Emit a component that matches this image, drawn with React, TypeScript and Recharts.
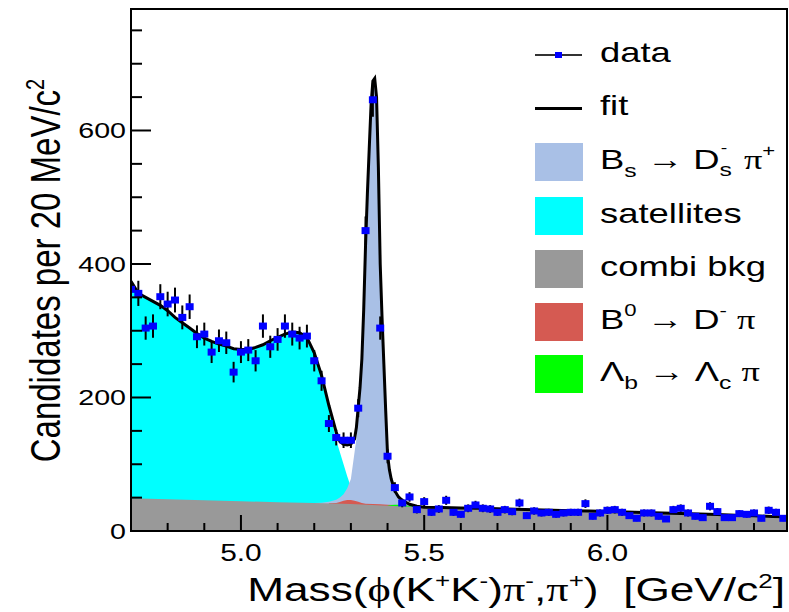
import React from "react";
import { ComposedChart, XAxis, YAxis, Area, Line, Scatter, ErrorBar } from "recharts";

// candidates per 20 MeV bin, bins starting at 4.70 GeV
const counts = [
  362, 356, 304, 307, 351, 340, 346, 320, 336, 291,
  295, 268, 285, 282, 238, 268, 271, 255, 307, 276,
  287, 307, 295, 289, 292, 255, 225, 161, 140, 136,
  136, 184, 450, 646, 304, 112, 65, 42, 51, 32,
  44, 28, 33, 46, 28, 25, 34, 39, 34, 33,
  28, 32, 29, 42, 23, 30, 27, 28, 25, 27,
  28, 28, 41, 22, 27, 31, 32, 28, 23, 19,
  27, 27, 22, 18, 32, 34, 27, 22, 20, 37,
  29, 20, 20, 26, 25, 27, 19, 31, 28, 19,
];

// total fit curve
const fitX = [
  4.70, 4.72, 4.74, 4.76, 4.78, 4.80, 4.82, 4.84, 4.86, 4.88,
  4.90, 4.92, 4.94, 4.96, 4.98, 5.00, 5.02, 5.04, 5.06, 5.08,
  5.10, 5.12, 5.14, 5.16, 5.18, 5.20, 5.22, 5.24, 5.26, 5.27,
  5.28, 5.29, 5.30, 5.31, 5.315, 5.32, 5.325, 5.33, 5.335, 5.34,
  5.345, 5.35, 5.355, 5.36, 5.365, 5.37, 5.375, 5.38, 5.385, 5.39,
  5.395, 5.40, 5.405, 5.41, 5.42, 5.43, 5.44, 5.46, 5.48, 5.50,
  5.55, 5.60, 5.65, 5.70, 5.75, 5.80, 5.85, 5.90, 5.95, 6.00,
  6.05, 6.10, 6.15, 6.20, 6.25, 6.30, 6.35, 6.40, 6.45, 6.49,
];
const fitY = [
  374, 356, 350, 344, 338, 330, 320, 312, 304, 296,
  289, 284, 280, 277, 273, 272, 272, 275, 279, 285,
  290, 295, 298, 297, 290, 267, 233, 188, 148, 134,
  130, 129, 130, 138, 155, 185, 215, 258, 332, 428,
  505, 572, 638, 674, 678, 650, 545, 400, 320, 250,
  180, 115, 92, 78, 60, 51, 46, 40, 37, 35.5,
  35.2, 34.5, 34, 33.3, 32.5, 31.8, 31, 30.5, 29.8, 29.2,
  28.3, 27.6, 26.8, 26.1, 25.3, 24.6, 23.5, 22.7, 21.8, 21.2,
];

// satellites (drawn on top of combinatorial)
const satX = [
  4.70, 4.72, 4.74, 4.76, 4.78, 4.80, 4.82, 4.84, 4.86, 4.88,
  4.90, 4.92, 4.94, 4.96, 4.98, 5.00, 5.02, 5.04, 5.06, 5.08,
  5.10, 5.12, 5.14, 5.16, 5.18, 5.20, 5.22, 5.24, 5.26, 5.27,
  5.28, 5.29, 5.30, 5.31, 5.32, 5.33, 5.34,
];
const satY = [
  374, 356, 350, 344, 338, 330, 320, 312, 304, 296,
  289, 284, 280, 277, 273, 272, 272, 275, 279, 285,
  290, 295, 298, 297, 290, 266, 231, 184, 136, 118,
  100, 82, 66, 52, 45, 41.5, 40,
];

// Bs -> Ds pi signal
const bsX = [
  5.20, 5.22, 5.24, 5.26, 5.27, 5.28, 5.29, 5.30, 5.31, 5.315,
  5.32, 5.325, 5.33, 5.335, 5.34, 5.345, 5.35, 5.355, 5.36, 5.365,
  5.37, 5.375, 5.38, 5.385, 5.39, 5.395, 5.40, 5.405, 5.41, 5.42,
  5.43, 5.44, 5.46, 5.48, 5.50, 5.55,
];
const bsY = [
  42, 42.5, 44, 47, 50, 55, 64, 78, 118, 138,
  172, 205, 252, 326, 422, 500, 568, 634, 670, 674,
  646, 541, 396, 316, 246, 176, 111, 88, 74, 56,
  48, 43, 38.5, 36, 35, 34.5,
];

// B0 -> D pi
const b0X = [5.24, 5.26, 5.27, 5.28, 5.29, 5.30, 5.31, 5.32, 5.33, 5.34, 5.36, 5.38, 5.40, 5.42, 5.43];
const b0Y = [41.4, 42, 43.5, 45.5, 46.5, 46.5, 45.5, 44, 42, 41, 40.5, 40, 39.5, 39, 37.3];

// Lambda_b -> Lambda_c pi
const lbX = [5.40, 5.41, 5.42, 5.43, 5.44, 5.45, 5.46, 5.47];
const lbY = [38, 38.8, 39.3, 39.5, 39.2, 38.5, 37.5, 36.5];

// combinatorial background
const bkgX = [4.70, 4.80, 4.90, 5.00, 5.10, 5.20, 5.30, 5.40, 5.50, 5.60, 5.70, 5.80, 5.90, 6.00, 6.10, 6.20, 6.30, 6.40, 6.49];
const bkgY = [49, 47.5, 46, 44.5, 43.2, 42, 40.5, 38, 35.5, 34, 33, 31.5, 30.5, 29, 27.5, 26, 24.5, 22.5, 21];

const xTicks = [4.8, 4.9, 5.0, 5.1, 5.2, 5.3, 5.4, 5.5, 5.6, 5.7, 5.8, 5.9, 6.0, 6.1, 6.2, 6.3, 6.4];
const yTicks = [0, 50, 100, 150, 200, 250, 300, 350, 400, 450, 500, 550, 600, 650, 700, 750];

const toPts = (xs: number[], ys: number[]) => xs.map((x, i) => ({ x, y: ys[i] }));
const dataPts = counts.map((c, i) => ({ x: +(4.7 + 0.02 * i).toFixed(2), y: c, err: Math.sqrt(c) }));

const FONT = '"Liberation Sans", Arial, sans-serif';
const GREEK = '"Liberation Serif", serif';
const SX = 1.3;

const COLORS = {
  bs: "#a9c0e6",
  sat: "#00ffff",
  bkg: "#999999",
  b0: "#d55a52",
  lb: "#00ff00",
  data: "#0000ff",
};

function XTick(props: any) {
  const { x, y, payload } = props;
  const v = payload.value as number;
  const major = Math.abs(v * 2 - Math.round(v * 2)) < 1e-6;
  return (
    <g>
      <line x1={x} x2={x} y1={y} y2={y - (major ? 16 : 8)} stroke="#000" strokeWidth={2} />
      {major && (
        <text
          transform={`translate(${x},${y + 22}) scale(${SX},1)`}
          textAnchor="middle"
          dy="0.35em"
          fontSize={23}
          fontFamily={FONT}
          fill="#000"
        >
          {v.toFixed(1)}
        </text>
      )}
    </g>
  );
}

function YTick(props: any) {
  const { x, y, payload } = props;
  const v = payload.value as number;
  const major = v % 200 === 0;
  return (
    <g>
      <line x1={x} x2={x + (major ? 20 : 11)} y1={y} y2={y} stroke="#000" strokeWidth={2} />
      {major && (
        <text
          transform={`translate(${x - 5},${y}) scale(${SX},1)`}
          textAnchor="end"
          dy="0.35em"
          fontSize={22}
          fontFamily={FONT}
          fill="#000"
        >
          {v}
        </text>
      )}
    </g>
  );
}

function DataMarker(props: any) {
  const { cx, cy } = props;
  return <rect x={cx - 4} y={cy - 3.5} width={8} height={7} fill={COLORS.data} />;
}

// small raised / lowered text, sized in px
const Sup = ({ children, size = 17 }: { children: React.ReactNode; size?: number }) => (
  <span style={{ fontSize: size, lineHeight: 1, verticalAlign: "top", display: "inline-block", marginTop: -1 }}>
    {children}
  </span>
);
const Sub = ({ children }: { children: React.ReactNode }) => (
  <span style={{ fontSize: 19, lineHeight: 1, position: "relative", top: 8 }}>{children}</span>
);
// superscript and subscript on the same letter, side by side in the flow
const SupSub = ({ sup, sub }: { sup: string; sub: string }) => (
  <span style={{ display: "inline-block", position: "relative", width: 11, height: 34, verticalAlign: "top" }}>
    <span style={{ position: "absolute", left: 1, top: -3, fontSize: 15, lineHeight: "15px" }}>{sup}</span>
    <span style={{ position: "absolute", left: 0, top: 17, fontSize: 19, lineHeight: "19px" }}>{sub}</span>
  </span>
);
const G = ({ children }: { children: React.ReactNode }) => (
  <span style={{ fontFamily: GREEK }}>{children}</span>
);

const legendRows: { cy: number; kind: "data" | "fit" | "box"; color?: string; label: React.ReactNode }[] = [
  { cy: 55, kind: "data", label: "data" },
  { cy: 108, kind: "fit", label: "fit" },
  {
    cy: 162,
    kind: "box",
    color: COLORS.bs,
    label: (
      <>
        B<Sub>s</Sub> → D<SupSub sup="-" sub="s" /> <G>π</G>
        <Sup>+</Sup>
      </>
    ),
  },
  { cy: 216, kind: "box", color: COLORS.sat, label: "satellites" },
  { cy: 269, kind: "box", color: COLORS.bkg, label: "combi bkg" },
  {
    cy: 322,
    kind: "box",
    color: COLORS.b0,
    label: (
      <>
        B<Sup>0</Sup> → D<Sup>-</Sup> <G>π</G>
      </>
    ),
  },
  {
    cy: 374,
    kind: "box",
    color: COLORS.lb,
    label: (
      <>
        Λ<Sub>b</Sub> → Λ<Sub>c</Sub> <G>π</G>
      </>
    ),
  },
];

export default function App() {
  return (
    <div
      style={{
        position: "absolute",
        left: 0,
        top: 0,
        width: 789,
        height: 612,
        overflow: "hidden",
        background: "#fff",
        fontFamily: FONT,
        color: "#000",
      }}
    >
      <ComposedChart width={789} height={612} margin={{ top: 9, right: 2, bottom: 0, left: 0 }}>
        <XAxis
          type="number"
          dataKey="x"
          domain={[4.7, 6.49]}
          allowDataOverflow
          ticks={xTicks}
          interval={0}
          tick={(p: any) => <XTick {...p} />}
          tickLine={false}
          axisLine={false}
          tickSize={0}
          tickMargin={0}
          height={81}
        />
        <YAxis
          type="number"
          domain={[0, 782]}
          allowDataOverflow
          ticks={yTicks}
          interval={0}
          tick={(p: any) => <YTick {...p} />}
          tickLine={false}
          axisLine={false}
          tickSize={0}
          tickMargin={0}
          width={131}
        />
        <Area data={toPts(satX, satY)} dataKey="y" type="linear" fill={COLORS.sat} fillOpacity={1} stroke="none" isAnimationActive={false} />
        <Area data={toPts(bsX, bsY)} dataKey="y" type="linear" fill={COLORS.bs} fillOpacity={1} stroke="none" isAnimationActive={false} />
        <Area data={toPts(b0X, b0Y)} dataKey="y" type="linear" fill={COLORS.b0} fillOpacity={1} stroke="none" isAnimationActive={false} />
        <Area data={toPts(lbX, lbY)} dataKey="y" type="linear" fill={COLORS.lb} fillOpacity={1} stroke="none" isAnimationActive={false} />
        <Area data={toPts(bkgX, bkgY)} dataKey="y" type="linear" fill={COLORS.bkg} fillOpacity={1} stroke="none" isAnimationActive={false} />
        <Line data={toPts(fitX, fitY)} dataKey="y" type="linear" stroke="#000" strokeWidth={3} dot={false} isAnimationActive={false} />
        <Scatter data={dataPts} dataKey="y" shape={<DataMarker />} isAnimationActive={false}>
          <ErrorBar dataKey="err" direction="y" width={0} stroke="#000" strokeWidth={2} />
        </Scatter>
      </ComposedChart>

      {/* frame */}
      <div
        style={{
          position: "absolute",
          left: 130,
          top: 8,
          width: 658,
          height: 524,
          border: "2px solid #000",
          boxSizing: "border-box",
          pointerEvents: "none",
        }}
      />

      {/* legend */}
      {legendRows.map((r, i) => (
        <React.Fragment key={i}>
          {r.kind === "box" && (
            <div
              style={{
                position: "absolute",
                left: 535,
                top: r.cy - 19,
                width: 48,
                height: 38,
                background: r.color,
              }}
            />
          )}
          {r.kind === "fit" && (
            <div style={{ position: "absolute", left: 535, top: r.cy - 1.5, width: 47, height: 3, background: "#000" }} />
          )}
          {r.kind === "data" && (
            <>
              <div style={{ position: "absolute", left: 535, top: r.cy - 1, width: 47, height: 2, background: "#333" }} />
              <div style={{ position: "absolute", left: 555, top: r.cy - 3, width: 7, height: 6, background: COLORS.data }} />
            </>
          )}
          <div
            style={{
              position: "absolute",
              left: 600,
              top: r.cy - 19,
              fontSize: 28,
              lineHeight: "34px",
              whiteSpace: "pre",
              transform: `scaleX(${SX})`,
              transformOrigin: "left center",
            }}
          >
            {r.label}
          </div>
        </React.Fragment>
      ))}

      {/* y-axis title */}
      <div
        style={{
          position: "absolute",
          left: 45 - 210,
          top: 270 - 16.5,
          width: 420,
          height: 33,
          fontSize: 33,
          lineHeight: "33px",
          textAlign: "center",
          whiteSpace: "pre",
          transform: `rotate(-90deg) scaleY(${SX})`,
          transformOrigin: "50% 50%",
        }}
      >
        Candidates per 20 MeV/c<Sup size={20}>2</Sup>
      </div>

      {/* x-axis title */}
      <div
        style={{
          position: "absolute",
          left: 785 - 700,
          top: 572,
          width: 700,
          fontSize: 34,
          lineHeight: "34px",
          textAlign: "right",
          whiteSpace: "pre",
          transform: `scaleX(${SX})`,
          transformOrigin: "right center",
        }}
      >
        Mass(<G>ϕ</G>(K<Sup size={20}>+</Sup>K<Sup size={20}>-</Sup>)<G>π</G>
        <Sup size={20}>-</Sup>,<G>π</G>
        <Sup size={20}>+</Sup>){"  "}[GeV/c<Sup size={20}>2</Sup>]
      </div>
    </div>
  );
}
